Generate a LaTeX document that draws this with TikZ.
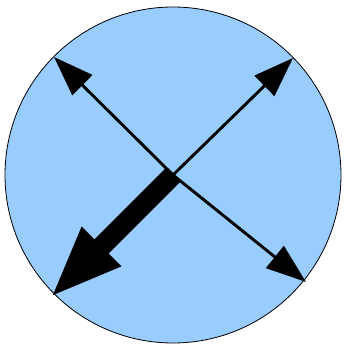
\documentclass[tikz,border=0pt]{standalone}
\usetikzlibrary{arrows.meta}
\definecolor{disc}{HTML}{99CCFF}
\tikzset{
  thinarrow/.style={line width=2.9pt, -{Triangle[length=40pt,width=28pt]}},
  thickarrow/.style={line width=20pt, -{Triangle[length=73pt,width=50pt]}},
  disk/.style={fill=disc, draw=black, line width=0.8pt}
}
\begin{document}
\begin{tikzpicture}[x=1pt,y=1pt]
\useasboundingbox (0,0) rectangle (344,346);
\coordinate (c) at (173,171);
\coordinate (ul) at (54,289);
\coordinate (ur) at (293,288);
\coordinate (lr) at (306,64);
\coordinate (ll) at (50,48);
\draw[disk] (c) circle (168);
\draw[thickarrow] (c) -- (ll);
\draw[thinarrow] (c) -- (ul);
\draw[thinarrow] (c) -- (ur);
\draw[thinarrow] (c) -- (lr);
\end{tikzpicture}
\end{document}
